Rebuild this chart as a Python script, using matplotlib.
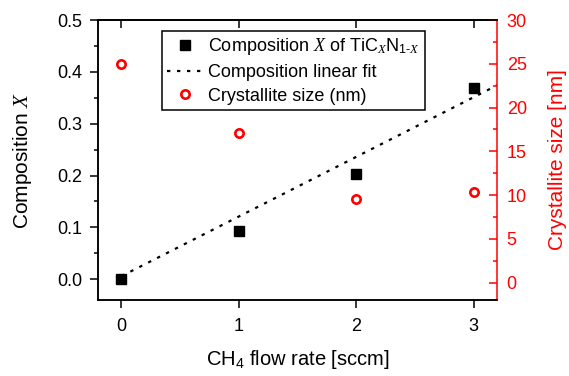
import matplotlib
matplotlib.use("Agg")
import matplotlib.pyplot as plt
from matplotlib.ticker import MultipleLocator, FormatStrFormatter
import numpy as np

plt.rcParams['font.family'] = ['Liberation Sans', 'DejaVu Sans']
plt.rcParams['mathtext.fontset'] = 'custom'
plt.rcParams['mathtext.rm'] = 'Liberation Sans'
plt.rcParams['mathtext.it'] = 'Liberation Serif:italic'

flow = [0, 1, 2, 3]
composition = [0.0, 0.093, 0.203, 0.368]
crystallite = [25.0, 17.1, 9.5, 10.3]

# linear fit as drawn in the figure
fit_intercept = 0.006
fit_slope = 0.115
fit_range = [0, 3.2]

rouge = '#ff0000'

fig = plt.figure(figsize=(5.69, 3.76), dpi=100)
ax = fig.add_axes([0.1722, 0.2021, 0.7013, 0.7447])
ax2 = ax.twinx()

ax.plot(flow, composition, 's', color='black', markersize=6.5,
        label=r'Composition $X$ of TiC$_X$N$_{\mathrm{1\text{-}}X}$')
fx = np.array(fit_range)
ax.plot(fx, fit_intercept + fit_slope * fx, color='black', lw=1.6, dashes=(1.5, 3),
        label='Composition linear fit')
ax2.plot(flow, crystallite, 'o', mfc='none', mec=rouge, mew=1.9, markersize=6, label='Crystallite size (nm)')

ax.set_xlim(-0.2, 3.2)
ax.set_ylim(-0.04, 0.5)
ax2.set_ylim(-2, 30)

ax.xaxis.set_major_locator(MultipleLocator(1))
ax.yaxis.set_major_locator(MultipleLocator(0.1))
ax.yaxis.set_minor_locator(MultipleLocator(0.05))
ax2.yaxis.set_major_locator(MultipleLocator(5))
ax2.yaxis.set_minor_locator(MultipleLocator(2.5))
ax.yaxis.set_major_formatter(FormatStrFormatter('%.1f'))

ax.tick_params(axis='x', which='both', direction='out', length=6, width=1.1, top=False, labelsize=13, pad=7)
ax.tick_params(axis='y', which='major', direction='out', length=6, width=1.1, labelsize=13, pad=5)
ax.tick_params(axis='y', which='minor', direction='out', length=3, width=1.1)
ax2.tick_params(axis='y', which='major', direction='in', length=6, width=1.1, colors=rouge, labelsize=13, pad=7)
ax2.tick_params(axis='y', which='minor', direction='in', length=3, width=1.1, colors=rouge)

# top ticks pointing inward
sec = ax.secondary_xaxis('top')
sec.set_xticks(flow)
sec.tick_params(direction='in', length=6, width=1.1, labeltop=False)
sec.spines['top'].set_linewidth(1.1)

for s in ['left', 'bottom', 'top']:
    ax.spines[s].set_linewidth(1.1)
    ax2.spines[s].set_linewidth(1.1)
ax2.spines['right'].set_color(rouge)
ax2.spines['right'].set_linewidth(1.1)
ax.spines['right'].set_visible(False)

ax.set_xlabel('CH$_4$ flow rate [sccm]', fontsize=14.5, labelpad=9)
ax.set_ylabel('Composition $X$', fontsize=15, labelpad=17)
ax2.set_ylabel('Crystallite size [nm]', fontsize=15, color=rouge, labelpad=15)

h1, l1 = ax.get_legend_handles_labels()
h2, l2 = ax2.get_legend_handles_labels()
leg = ax2.legend(h1 + h2, l1 + l2, loc='upper left', bbox_to_anchor=(0.16, 0.961),
                 borderaxespad=0, fancybox=False, edgecolor='black', fontsize=13,
                 handlelength=2.0, handletextpad=0.3, borderpad=0.28, labelspacing=0.38)
leg.get_frame().set_linewidth(1.1)
leg.get_frame().set_alpha(1)

fig.savefig('out.png', dpi=100)
